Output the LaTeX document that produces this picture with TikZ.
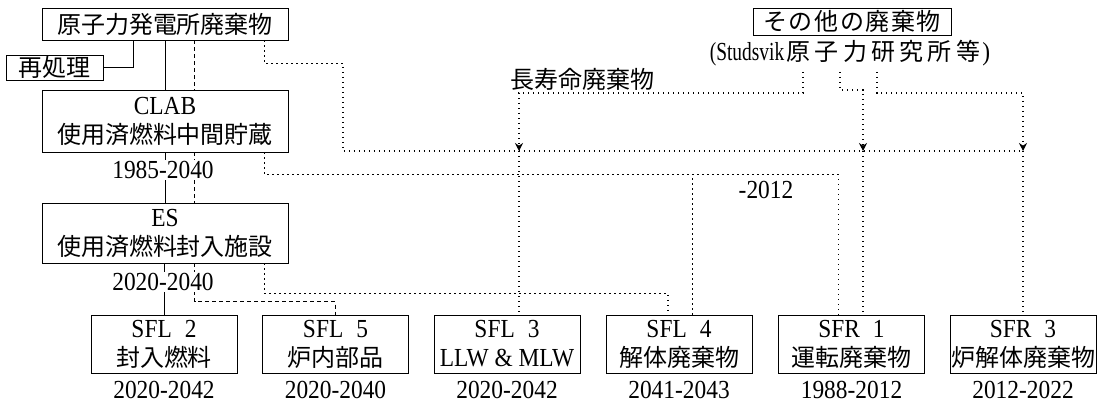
\documentclass[tikz,border=0pt]{standalone}
\usepackage{fontspec}
\usepackage{graphicx}
\setmainfont{Liberation Serif}[FakeStretch=0.9]
\newfontfamily\jp{Noto Sans CJK JP}[Scale=0.923]
\newcommand\cbw[1]{\makebox[25.6pt]{\jp #1}}
\newcommand\cbn[1]{\makebox[28.3pt]{\jp #1}}
\usetikzlibrary{arrows.meta,calc}
\pgfdeclarelayer{bg}
\pgfsetlayers{bg,main}
\begin{document}
\begin{tikzpicture}[x=1pt,y=-1pt,
 box/.style={draw, line width=0.9pt, inner sep=0pt, align=center, font=\fontsize{26}{29}\selectfont},
 lbl/.style={inner sep=1pt, font=\fontsize{26}{29}\selectfont},
 dlbl/.style={lbl, fill=white},
 sol/.style={line width=0.9pt},
 dsh/.style={line width=0.8pt, dash pattern=on 4pt off 3pt},
 dot/.style={line width=1.1pt, dash pattern=on 1.1pt off 3.9pt},
 arr/.style={dot, -{Stealth[length=8pt,width=8pt]}}
]
\useasboundingbox (0,0) rectangle (1098,404);

% top left
\node[box, minimum width=246pt, minimum height=32pt] (top) at (165,24) {\jp 原子力発電所廃棄物};
\node[box, minimum width=97pt, minimum height=25pt] (rep) at (54.5,67.5) {\jp 再処理};
\node[box, minimum width=246pt, minimum height=62pt] (clab) at (165,121) {CLAB\\{\jp 使用済燃料中間貯蔵}};
\node[dlbl] (d1) at (163,170) {1985-2040};
\node[box, minimum width=246pt, minimum height=60pt] (es) at (165,233) {ES\\{\jp 使用済燃料封入施設}};
\node[dlbl] (d2) at (163,282) {2020-2040};

% top right
\node[box, minimum width=198pt, minimum height=27pt] (oth) at (852,21.5) {\cbw{そ}\cbw{の}\cbw{他}\cbw{の}\cbw{廃}\cbw{棄}\cbw{物}};
\node[lbl] (oth2) at (850,53) {\scalebox{0.83}[1]{(Studsvik}\cbn{原}\cbn{子}\cbn{力}\cbn{研}\cbn{究}\cbn{所}\cbn{等})};
\node[lbl] (lng) at (582,79) {\jp 長寿命廃棄物};
\node[lbl] (y12) at (766,190) {-2012};

% bottom row
\foreach \n/\x/\a/\b/\d in {
  sfl2/164/{SFL\hspace{.5em}2}/{\jp 封入燃料}/2020-2042,
  sfl5/335.5/{SFL\hspace{.5em}5}/{\jp 炉内部品}/2020-2040,
  sfl3/507/{SFL\hspace{.5em}3}/{LLW \& MLW}/2020-2042,
  sfl4/679/{SFL\hspace{.5em}4}/{\jp 解体廃棄物}/2041-2043,
  sfr1/851.5/{SFR\hspace{.5em}1}/{\jp 運転廃棄物}/1988-2012,
  sfr3/1023/{SFR\hspace{.5em}3}/{\jp 炉解体廃棄物}/2012-2022}{
  \node[box, minimum width=146pt, minimum height=58pt] (\n) at (\x,344) {\a\\\b};
  \node[lbl] (\n d) at (\x,390) {\d};
}

\coordinate (s1) at (803,72);
\coordinate (s2) at (840,72);
\coordinate (s3) at (877,72);
\coordinate (jA) at (519,151);
\coordinate (jB) at (863,151);
\coordinate (jC) at (1023,151);

\begin{pgfonlayer}{bg}
% solid
\draw[sol] (rep.east) -| ($(top.south west)+(92,0)$);
\draw[sol] (top.south) -- (clab.north);
\draw[sol] (clab.south) -- (es.north);
\draw[sol] (sfl2.north |- es.south) -- (sfl2.north);
% dashed
\draw[dsh] ($(top.south west)+(153,0)$) -- ($(clab.north west)+(153,0)$);
\draw[dsh] ($(clab.south west)+(153,0)$) -- ($(es.north west)+(153,0)$);
\draw[dsh] ($(es.south west)+(153,0)$) |- ($(sfl5.north)+(0,-13)$) -- (sfl5.north);
% dotted
\draw[dot] ($(top.south east)+(-24,0)$) -- ++(0,23) -| (343,151) -- (jC);
\draw[dot] ($(clab.south east)+(-24,0)$) -- ++(0,22) -| ($(sfr1.north west)+(60,0)$);
\draw[dot] ($(sfl4.north)+(13.3,0)$) -- ++(0,-141);
\draw[dot] ($(es.south east)+(-24,0)$) -- ++(0,30) -| ($(sfl4.north)+(-11,0)$);
\draw[arr] (s1) -- ++(0,21) -| (jA);
\draw[dot] (jA) -- (jA |- sfl3.north);
\draw[arr] (s2) -- ++(0,18) -| (jB);
\draw[dot] (jB) -- (jB |- sfr1.north);
\draw[arr] (s3) -- ++(0,21) -| (jC);
\draw[dot] (jC) -- (jC |- sfr3.north);
\end{pgfonlayer}
\end{tikzpicture}
\end{document}
